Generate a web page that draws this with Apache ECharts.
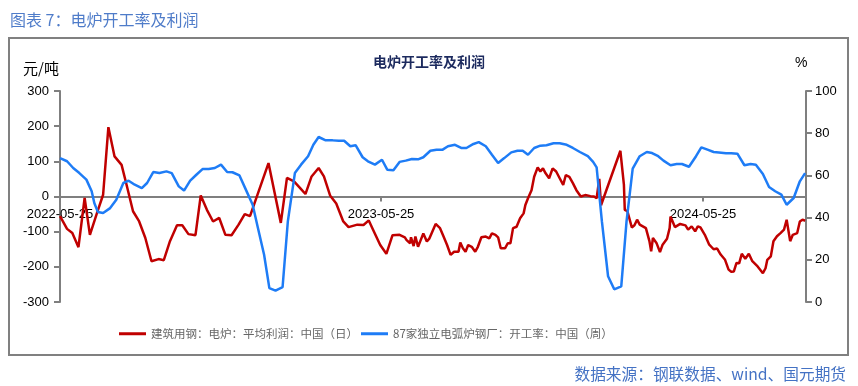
<!DOCTYPE html>
<html>
<head>
<meta charset="utf-8">
<script src="https://cdn.jsdelivr.net/npm/echarts@6/dist/echarts.min.js"></script>
<style>
html,body{margin:0;padding:0;background:#fff;}
#main{width:858px;height:386px;}
</style>
</head>
<body>
<div id="main"></div>
<script>
// ---- Data ----
var redName = '建筑用钢：电炉：平均利润：中国（日）';
var blueName = '87家独立电弧炉钢厂：开工率：中国（周）';

var redDates = ['2022-05-25','2022-06-02','2022-06-08','2022-06-15','2022-06-22','2022-06-28','2022-07-06','2022-07-13','2022-07-19','2022-07-26',
'2022-08-03','2022-08-09','2022-08-16','2022-08-23','2022-08-30','2022-09-06','2022-09-14','2022-09-20','2022-09-27','2022-10-05',
'2022-10-11','2022-10-18','2022-10-26','2022-11-01','2022-11-08','2022-11-15','2022-11-22','2022-11-29','2022-12-06','2022-12-14',
'2022-12-21','2022-12-27','2023-01-17','2023-01-31','2023-02-07','2023-02-15','2023-02-22','2023-02-28','2023-03-07','2023-03-15',
'2023-03-21','2023-03-28','2023-04-04','2023-04-12','2023-04-18','2023-04-28','2023-05-05','2023-05-11','2023-05-16','2023-05-24',
'2023-05-31','2023-06-07','2023-06-15','2023-06-21','2023-06-23','2023-06-27','2023-06-28','2023-07-01','2023-07-03','2023-07-06',
'2023-07-09','2023-07-12','2023-07-16','2023-07-19','2023-07-26','2023-07-31','2023-08-04','2023-08-08','2023-08-12','2023-08-16',
'2023-08-21','2023-08-23','2023-08-26','2023-08-29','2023-09-01','2023-09-05','2023-09-09','2023-09-12','2023-09-16','2023-09-21',
'2023-09-25','2023-09-28','2023-10-02','2023-10-05','2023-10-08','2023-10-13','2023-10-16','2023-10-19','2023-10-22','2023-10-26',
'2023-10-30','2023-11-03','2023-11-05','2023-11-08','2023-11-12','2023-11-15','2023-11-19','2023-11-22','2023-11-25','2023-11-28',
'2023-12-02','2023-12-06','2023-12-10','2023-12-14','2023-12-18','2023-12-21','2023-12-25','2023-12-29','2024-01-02','2024-01-07',
'2024-01-12','2024-01-18','2024-01-22','2024-01-25','2024-01-28','2024-01-30','2024-02-21','2024-02-25','2024-02-26','2024-02-29',
'2024-03-05','2024-03-08','2024-03-11','2024-03-14','2024-03-16','2024-03-21','2024-03-25','2024-03-27','2024-03-29','2024-04-02',
'2024-04-06','2024-04-09','2024-04-14','2024-04-17','2024-04-18','2024-04-23','2024-04-29','2024-05-05','2024-05-08','2024-05-12',
'2024-05-16','2024-05-19','2024-05-22','2024-05-27','2024-06-01','2024-06-06','2024-06-10','2024-06-14','2024-06-19','2024-06-23',
'2024-06-26','2024-06-29','2024-07-02','2024-07-05','2024-07-08','2024-07-12','2024-07-16','2024-07-20','2024-07-26','2024-08-01',
'2024-08-04','2024-08-06','2024-08-10','2024-08-13','2024-08-17','2024-08-21','2024-08-25','2024-08-28','2024-08-30','2024-09-01',
'2024-09-04','2024-09-09','2024-09-12','2024-09-15','2024-09-18'];
var redValues = [-56,-92,-104,-144,-4,-109,-47,5,197,114,
90,30,-42,-71,-118,-184,-178,-181,-127,-82,
-82,-107,-110,3,-38,-71,-61,-109,-110,-80,
-50,-56,95,-75,53,43,24,7,57,81,
57,3,-20,-71,-87,-80,-81,-68,-95,-138,
-163,-110,-109,-116,-124,-133,-116,-141,-114,-143,
-124,-105,-128,-119,-78,-90,-114,-138,-166,-157,
-157,-131,-147,-157,-138,-143,-157,-143,-116,-114,
-119,-105,-109,-116,-147,-147,-133,-133,-90,-86,
-62,-48,-24,-5,18,56,83,71,80,66,
52,80,71,52,33,61,56,38,18,0,
4,1,0,-5,50,-25,130,34,-38,-42,
-88,-82,-66,-80,-82,-90,-127,-156,-118,-132,
-158,-137,-120,-90,-57,-87,-78,-82,-94,-85,
-99,-85,-88,-109,-137,-150,-148,-165,-180,-208,
-214,-213,-189,-190,-163,-177,-163,-184,-199,-218,
-204,-180,-170,-127,-113,-104,-94,-66,-70,-127,
-109,-104,-71,-66,-69];

var blueDates = ['2022-05-25','2022-06-02','2022-06-09','2022-06-16','2022-06-24','2022-06-30','2022-07-03','2022-07-07','2022-07-13','2022-07-21',
'2022-07-28','2022-08-05','2022-08-11','2022-08-18','2022-08-26','2022-09-01','2022-09-08','2022-09-15','2022-09-23','2022-09-29',
'2022-10-07','2022-10-13','2022-10-20','2022-10-27','2022-11-03','2022-11-10','2022-11-17','2022-11-24','2022-12-01','2022-12-07',
'2022-12-15','2022-12-22','2022-12-30','2023-01-05','2023-01-12','2023-01-18','2023-01-25','2023-02-02','2023-02-08','2023-02-16',
'2023-02-23','2023-03-03','2023-03-09','2023-03-15','2023-03-23','2023-03-31','2023-04-07','2023-04-13','2023-04-20','2023-04-26',
'2023-05-04','2023-05-10','2023-05-18','2023-05-26','2023-06-01','2023-06-08','2023-06-15','2023-06-22','2023-06-29','2023-07-06',
'2023-07-12','2023-07-20','2023-07-27','2023-08-03','2023-08-09','2023-08-17','2023-08-24','2023-08-30','2023-09-07','2023-09-13',
'2023-09-21','2023-09-28','2023-10-05','2023-10-12','2023-10-20','2023-10-27','2023-11-02','2023-11-08','2023-11-15','2023-11-22',
'2023-11-29','2023-12-07','2023-12-14','2023-12-22','2023-12-29','2024-01-06','2024-01-15','2024-01-21','2024-01-25','2024-01-31',
'2024-02-07','2024-02-14','2024-02-22','2024-02-28','2024-03-06','2024-03-14','2024-03-22','2024-03-28','2024-04-04','2024-04-10',
'2024-04-18','2024-04-25','2024-05-01','2024-05-09','2024-05-17','2024-05-23','2024-05-30','2024-06-06','2024-06-12','2024-06-20',
'2024-06-26','2024-07-03','2024-07-11','2024-07-18','2024-07-24','2024-08-01','2024-08-08','2024-08-15','2024-08-22','2024-08-28',
'2024-09-05','2024-09-12','2024-09-18'];
var blueValues = [68.2,66.7,63.5,61.1,58.0,52.5,46.9,42.7,42.2,44.5,
48.5,56.4,57.5,55.6,54.0,56.4,61.6,61.1,61.9,61.1,
54.8,52.8,57.5,60.3,63.0,63.0,63.5,65.1,61.6,61.5,
60.0,53.5,46.1,35.1,22.4,6.6,5.4,7.0,38.2,61.1,
65.1,69.1,74.5,78.2,76.6,76.6,76.4,76.4,73.8,74.3,
68.6,66.7,65.1,67.4,62.7,62.4,66.4,67.0,67.8,67.6,
68.6,71.7,72.2,72.2,73.8,74.5,73.0,73.0,74.9,75.8,
73.8,69.8,65.9,68.2,70.9,71.7,71.7,69.8,73.0,74.1,
74.3,75.2,75.2,74.5,73.0,71.1,69.1,66.4,63.8,38.2,
12.2,6.0,7.4,38.2,63.2,69.1,71.1,70.6,69.1,67.0,
64.8,65.4,65.4,64.1,69.1,73.3,72.2,71.1,70.9,70.5,
70.5,70.3,64.8,65.4,65.1,60.7,54.5,52.5,50.9,46.1,
49.3,57.2,61.1];

var xTickDates = ['2022-05-25','2023-05-25','2024-05-25'];
var xMin = '2022-05-25';
var xMax = '2024-09-19';
var leftTicks = {min: -300, max: 300, interval: 100};
var rightTicks = {min: 0, max: 100, interval: 20};

// ---- Build chart ----
function parseD(s){ var p = s.split('-'); return Date.UTC(+p[0], +p[1]-1, +p[2]); }
function pad(n){ return (n<10?'0':'')+n; }
function fmtD(v){ var d = new Date(v); return d.getUTCFullYear()+'-'+pad(d.getUTCMonth()+1)+'-'+pad(d.getUTCDate()); }

var redData = redDates.map(function(d,i){ return [parseD(d), redValues[i]]; });
var blueData = blueDates.map(function(d,i){ return [parseD(d), blueValues[i]]; });
var tickVals = xTickDates.map(parseD);

var axisGray = '#7f7f7f';
var cjk = '"Noto Sans CJK SC", sans-serif';
var latin = '"Liberation Sans", Arial, sans-serif';

var gridTop = 91, gridBottom = 84, chartH = 386;
var plotH = chartH - gridTop - gridBottom;
// move the date axis up so that it sits on the left axis' zero value
var zeroShift = -plotH * (0 - leftTicks.min) / (leftTicks.max - leftTicks.min);

var chart = echarts.init(document.getElementById('main'), null, {renderer: 'canvas'});
chart.setOption({
  animation: false,
  backgroundColor: '#ffffff',
  title: {
    text: '电炉开工率及利润',
    left: 'center',
    top: 50,
    textStyle: {fontSize: 14, fontWeight: 'bold', color: '#1c2a5e', fontFamily: cjk}
  },
  legend: {
    left: 114,
    top: 323,
    icon: 'rect',
    itemWidth: 27,
    itemHeight: 3,
    itemGap: 3,
    textStyle: {fontSize: 11.5, color: '#666666', fontFamily: cjk},
    data: [redName, blueName]
  },
  grid: {left: 60, right: 52, top: gridTop, bottom: gridBottom},
  xAxis: {
    type: 'value',
    min: parseD(xMin),
    max: parseD(xMax),
    position: 'bottom',
    offset: zeroShift,
    axisLine: {show: true, onZero: false, lineStyle: {color: axisGray, width: 2}},
    axisTick: {show: true, customValues: tickVals, length: 5, lineStyle: {color: axisGray, width: 2}},
    axisLabel: {customValues: tickVals, formatter: function(v){ return fmtD(v); }, fontSize: 13, color: '#000', fontFamily: latin, margin: 11},
    splitLine: {show: false}
  },
  yAxis: [
    {
      type: 'value', min: leftTicks.min, max: leftTicks.max, interval: leftTicks.interval,
      axisLine: {show: true, onZero: false, lineStyle: {color: axisGray, width: 2}},
      axisTick: {show: true, length: 6, lineStyle: {color: axisGray, width: 2}},
      axisLabel: {fontSize: 13, color: '#000', fontFamily: latin, margin: 11},
      splitLine: {show: false}
    },
    {
      type: 'value', position: 'right', min: rightTicks.min, max: rightTicks.max, interval: rightTicks.interval,
      axisLine: {show: true, onZero: false, lineStyle: {color: axisGray, width: 2}},
      axisTick: {show: true, length: 6, lineStyle: {color: axisGray, width: 2}},
      axisLabel: {fontSize: 13, color: '#000', fontFamily: latin, margin: 9},
      splitLine: {show: false}
    }
  ],
  series: [
    {
      name: redName, type: 'line', yAxisIndex: 0, data: redData,
      showSymbol: false, symbol: 'none',
      lineStyle: {color: '#c00000', width: 2.5}, itemStyle: {color: '#c00000'}
    },
    {
      name: blueName, type: 'line', yAxisIndex: 1, data: blueData,
      showSymbol: false, symbol: 'none',
      lineStyle: {color: '#1e7cf6', width: 2.5}, itemStyle: {color: '#1e7cf6'}
    }
  ],
  graphic: [
    {type: 'rect', shape: {x: 9, y: 38, width: 839, height: 317}, style: {fill: 'none', stroke: '#808080', lineWidth: 2}, silent: true},
    {type: 'text', x: 10, y: 20, style: {text: '图表 7：电炉开工率及利润', fontSize: 16, fill: '#4f7cc9', fontFamily: cjk, verticalAlign: 'middle'}},
    {type: 'text', x: 23, y: 68, style: {text: '元/吨', fontSize: 15, fill: '#000', fontFamily: cjk, verticalAlign: 'middle'}},
    {type: 'text', x: 795, y: 63, style: {text: '%', fontSize: 14, fill: '#000', fontFamily: latin, verticalAlign: 'middle'}},
    {type: 'text', x: 846, y: 374, style: {text: '数据来源：钢联数据、wind、国元期货', fontSize: 15.7, fill: '#4472c4', fontFamily: cjk, align: 'right', verticalAlign: 'middle'}}
  ]
});
</script>
</body>
</html>
